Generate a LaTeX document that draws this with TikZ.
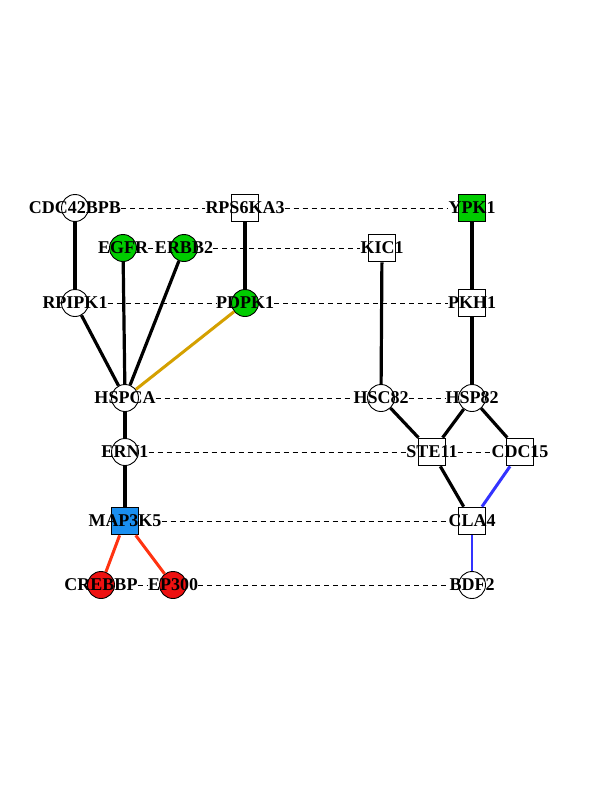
\documentclass[tikz,border=0pt]{standalone}
\usepackage{fontspec}
\setmainfont{Liberation Serif}
\begin{document}
\begin{tikzpicture}[x=1pt,y=-1pt,
  cnode/.style={circle,draw=black,line width=0.9pt,fill=white,minimum size=27pt,inner sep=0pt},
  snode/.style={rectangle,draw=black,line width=1.7pt,fill=white,minimum size=27pt,inner sep=0pt},
  lbl/.style={inner sep=0pt,font=\fontsize{18}{18}\selectfont\bfseries},
  solidedge/.style={line width=3.2pt,black},
  dashedge/.style={line width=0.9pt,black,dash pattern=on 5pt off 4pt},
  goldedge/.style={line width=3pt,color=edgegold},
  redge/.style={line width=3pt,color=edgered},
  bedge/.style={line width=3pt,color=edgeblue}]
\definecolor{nodegreen}{RGB}{0,204,0}
\definecolor{nodeblue}{RGB}{26,143,240}
\definecolor{nodered}{RGB}{238,17,17}
\definecolor{edgegold}{RGB}{212,160,0}
\definecolor{edgered}{RGB}{255,51,17}
\definecolor{edgeblue}{RGB}{51,51,255}
\useasboundingbox (0,0) rectangle (612,792);
% shapes
\node[cnode] (cdc42bpb) at (75,208) {};
\node[snode] (rps6ka3) at (245,208) {};
\node[snode,fill=nodegreen] (ypk1) at (472,208) {};
\node[cnode,fill=nodegreen] (egfr) at (123,248) {};
\node[cnode,fill=nodegreen] (erbb2) at (184,248) {};
\node[snode] (kic1) at (382,248) {};
\node[cnode] (rpipk1) at (75,303) {};
\node[cnode,fill=nodegreen] (pdpk1) at (245,303) {};
\node[snode] (pkh1) at (472,303) {};
\node[cnode] (hspca) at (125,398) {};
\node[cnode] (hsc82) at (381,398) {};
\node[cnode] (hsp82) at (472,398) {};
\node[cnode] (ern1) at (125,452) {};
\node[snode] (ste11) at (432,452) {};
\node[snode] (cdc15) at (520,452) {};
\node[snode,fill=nodeblue] (map3k5) at (125,521) {};
\node[snode] (cla4) at (472,521) {};
\node[cnode,fill=nodered] (crebbp) at (101,585) {};
\node[cnode,fill=nodered] (ep300) at (173,585) {};
\node[cnode] (bdf2) at (472,585) {};
% solid edges
\draw[solidedge] (cdc42bpb) -- (rpipk1);
\draw[solidedge] (rps6ka3) -- (pdpk1);
\draw[solidedge] (ypk1) -- (pkh1);
\draw[solidedge] (kic1) -- (hsc82);
\draw[solidedge] (pkh1) -- (hsp82);
\draw[solidedge] (rpipk1) -- (hspca);
\draw[solidedge] (egfr) -- (hspca);
\draw[solidedge] (erbb2) -- (hspca);
\draw[solidedge] (hspca) -- (ern1);
\draw[solidedge] (ern1) -- (map3k5);
\draw[solidedge] (hsc82) -- (ste11);
\draw[solidedge] (hsp82) -- (ste11);
\draw[solidedge] (hsp82) -- (cdc15);
\draw[solidedge] (ste11) -- (cla4);
\draw[goldedge] (pdpk1) -- (hspca);
\draw[redge] (map3k5) -- (crebbp);
\draw[redge] (map3k5) -- (ep300);
\draw[bedge] (cdc15) -- (cla4);
\draw[bedge,line width=2.2pt] (cla4) -- (bdf2);
% labels
\node[lbl] (l-cdc42bpb) at (cdc42bpb) {CDC42BPB};
\node[lbl] (l-rps6ka3) at (rps6ka3) {RPS6KA3};
\node[lbl] (l-ypk1) at (ypk1) {YPK1};
\node[lbl] (l-egfr) at (egfr) {EGFR};
\node[lbl] (l-erbb2) at (erbb2) {ERBB2};
\node[lbl] (l-kic1) at (kic1) {KIC1};
\node[lbl] (l-rpipk1) at (rpipk1) {RPIPK1};
\node[lbl] (l-pdpk1) at (pdpk1) {PDPK1};
\node[lbl] (l-pkh1) at (pkh1) {PKH1};
\node[lbl] (l-hspca) at (hspca) {HSPCA};
\node[lbl] (l-hsc82) at (hsc82) {HSC82};
\node[lbl] (l-hsp82) at (hsp82) {HSP82};
\node[lbl] (l-ern1) at (ern1) {ERN1};
\node[lbl] (l-ste11) at (ste11) {STE11};
\node[lbl] (l-cdc15) at (cdc15) {CDC15};
\node[lbl] (l-map3k5) at (map3k5) {MAP3K5};
\node[lbl] (l-cla4) at (cla4) {CLA4};
\node[lbl] (l-crebbp) at (crebbp) {CREBBP};
\node[lbl] (l-ep300) at (ep300) {EP300};
\node[lbl] (l-bdf2) at (bdf2) {BDF2};
% dashed edges between labels
\draw[dashedge] (l-cdc42bpb.east) -- (l-rps6ka3.west);
\draw[dashedge] (l-rps6ka3.east) -- (l-ypk1.west);
\draw[dashedge] (l-egfr.east) -- (l-erbb2.west);
\draw[dashedge] (l-erbb2.east) -- (l-kic1.west);
\draw[dashedge] (l-rpipk1.east) -- (l-pdpk1.west);
\draw[dashedge] (l-pdpk1.east) -- (l-pkh1.west);
\draw[dashedge] (l-hspca.east) -- (l-hsc82.west);
\draw[dashedge] (l-hsc82.east) -- (l-hsp82.west);
\draw[dashedge] (l-ern1.east) -- (l-ste11.west);
\draw[dashedge] (l-ste11.east) -- (l-cdc15.west);
\draw[dashedge] (l-map3k5.east) -- (l-cla4.west);
\draw[dashedge] (l-crebbp.east) -- (l-ep300.west);
\draw[dashedge] (l-ep300.east) -- (l-bdf2.west);
\end{tikzpicture}
\end{document}
